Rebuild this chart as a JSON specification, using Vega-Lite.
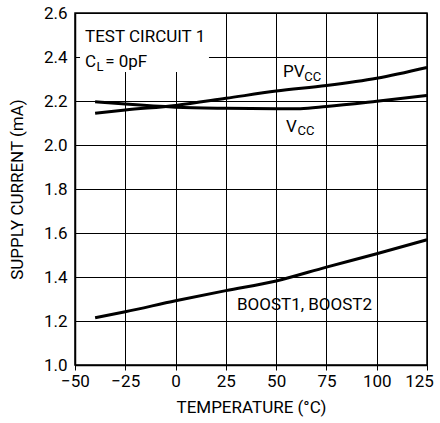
{
  "$schema": "https://vega.github.io/schema/vega-lite/v6.json",
  "autosize": "none",
  "width": 352,
  "height": 352,
  "padding": {"left": 75, "top": 13, "right": 13, "bottom": 58},
  "background": "white",
  "config": {
    "font": "Roboto",
    "view": {"stroke": "#000", "strokeWidth": 1.5},
    "axis": {
      "gridColor": "#000", "gridOpacity": 1, "gridWidth": 1,
      "domainColor": "#000", "domainWidth": 1.5,
      "tickColor": "#000", "labelColor": "#000", "titleColor": "#000",
      "labelFont": "Roboto", "titleFont": "Roboto",
      "labelFontSize": 17, "titleFontSize": 17, "titleFontWeight": "normal"
    }
  },
  "datasets": {
    "curves": [
      {"series": "BOOST", "T": -40, "I": 1.215},
      {"series": "BOOST", "T": -25, "I": 1.242},
      {"series": "BOOST", "T": 0, "I": 1.292},
      {"series": "BOOST", "T": 25, "I": 1.338},
      {"series": "BOOST", "T": 50, "I": 1.382},
      {"series": "BOOST", "T": 75, "I": 1.445},
      {"series": "BOOST", "T": 100, "I": 1.506},
      {"series": "BOOST", "T": 125, "I": 1.569},
      {"series": "PVCC", "T": -40, "I": 2.144},
      {"series": "PVCC", "T": -25, "I": 2.159},
      {"series": "PVCC", "T": 0, "I": 2.180},
      {"series": "PVCC", "T": 25, "I": 2.212},
      {"series": "PVCC", "T": 50, "I": 2.245},
      {"series": "PVCC", "T": 75, "I": 2.270},
      {"series": "PVCC", "T": 100, "I": 2.303},
      {"series": "PVCC", "T": 125, "I": 2.352},
      {"series": "VCC", "T": -40, "I": 2.197},
      {"series": "VCC", "T": -25, "I": 2.186},
      {"series": "VCC", "T": 0, "I": 2.172},
      {"series": "VCC", "T": 25, "I": 2.167},
      {"series": "VCC", "T": 50, "I": 2.165},
      {"series": "VCC", "T": 62, "I": 2.165},
      {"series": "VCC", "T": 75, "I": 2.175},
      {"series": "VCC", "T": 100, "I": 2.199},
      {"series": "VCC", "T": 125, "I": 2.225}
    ],
    "labels": [
      {"role": "main", "T": -45.0, "I": 2.4695, "text": "TEST CIRCUIT 1"},
      {"role": "main", "T": -45.0, "I": 2.356, "text": "C"},
      {"role": "sub", "T": -39.3, "I": 2.335, "text": "L"},
      {"role": "main", "T": -35.0, "I": 2.356, "text": "= 0pF"},
      {"role": "main", "T": 53.4, "I": 2.309, "text": "PV"},
      {"role": "sub", "T": 64.0, "I": 2.292, "text": "CC"},
      {"role": "main", "T": 54.9, "I": 2.059, "text": "V"},
      {"role": "sub", "T": 60.6, "I": 2.045, "text": "CC"},
      {"role": "main", "T": 30.5, "I": 1.25, "text": "BOOST1, BOOST2"}
    ],
    "box": [
      {"T1": -47.5, "T2": 16.6, "I1": 2.332, "I2": 2.595}
    ]
  },
  "layer": [
    {
      "data": {"name": "box"},
      "mark": {"type": "rect", "fill": "white", "stroke": null},
      "encoding": {
        "x": {"field": "T1", "type": "quantitative", "scale": {"domain": [-50, 125], "nice": false},
          "axis": {"values": [-50, -25, 0, 25, 50, 75, 100, 125], "title": "TEMPERATURE (°C)", "tickSize": 5, "labelPadding": 3, "titlePadding": 10, "labelFlush": false,
            "labelOffset": {"condition": {"test": "datum.value == 125", "value": -8}, "value": 0}}},
        "x2": {"field": "T2"},
        "y": {"field": "I1", "type": "quantitative", "scale": {"domain": [1.0, 2.6], "nice": false},
          "axis": {"values": [1.0, 1.2, 1.4, 1.6, 1.8, 2.0, 2.2, 2.4, 2.6], "format": ".1f", "title": "SUPPLY CURRENT (mA)", "tickSize": 0, "ticks": false, "labelPadding": 8, "titlePadding": 17, "labelFlush": false}},
        "y2": {"field": "I2"}
      }
    },
    {
      "data": {"name": "curves"},
      "mark": {"type": "line", "color": "#000", "strokeWidth": 3, "interpolate": "monotone"},
      "encoding": {
        "x": {"field": "T", "type": "quantitative"},
        "y": {"field": "I", "type": "quantitative"},
        "detail": {"field": "series"}
      }
    },
    {
      "data": {"name": "labels"},
      "transform": [{"filter": "datum.role == 'main'"}],
      "mark": {"type": "text", "align": "left", "baseline": "alphabetic", "fontSize": 17, "color": "#000", "font": "Roboto"},
      "encoding": {
        "x": {"field": "T", "type": "quantitative"},
        "y": {"field": "I", "type": "quantitative"},
        "text": {"field": "text"}
      }
    },
    {
      "data": {"name": "labels"},
      "transform": [{"filter": "datum.role == 'sub'"}],
      "mark": {"type": "text", "align": "left", "baseline": "alphabetic", "fontSize": 13, "color": "#000", "font": "Roboto"},
      "encoding": {
        "x": {"field": "T", "type": "quantitative"},
        "y": {"field": "I", "type": "quantitative"},
        "text": {"field": "text"}
      }
    }
  ]
}
